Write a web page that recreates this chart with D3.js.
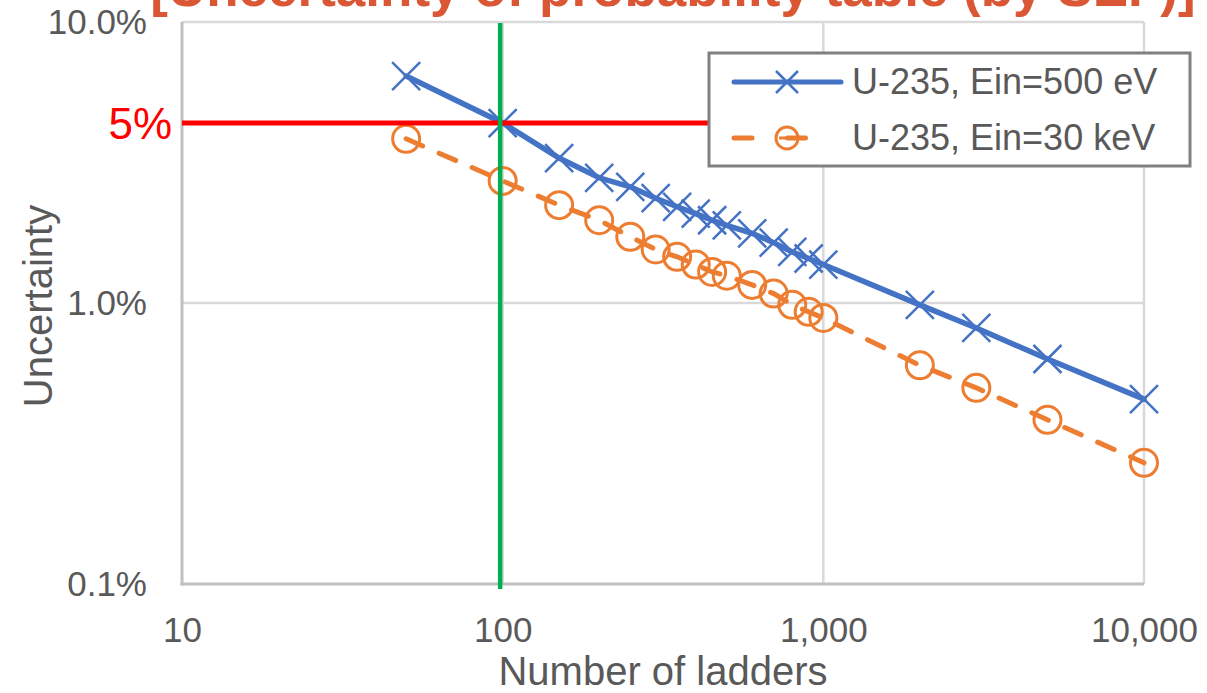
<!DOCTYPE html>
<html>
<head>
<meta charset="utf-8">
<script src="https://cdn.jsdelivr.net/npm/d3@7"></script>
<style>
  body { margin: 0; background: #fff; }
  text { font-family: "Liberation Sans", Arial, sans-serif; }
</style>
</head>
<body>
<script>
var w = 1207;
var h = 693;

// number of ladders
var ladders = [50, 100, 150, 200, 250, 300, 350, 400, 450, 500, 600, 700, 800, 900, 1000, 2000, 3000, 5000, 10000];
// uncertainty in %
var ein500eV = [6.42, 4.37, 3.28, 2.79, 2.59, 2.36, 2.20, 2.08, 1.97, 1.89, 1.77, 1.64, 1.52, 1.44, 1.37, 0.985, 0.815, 0.632, 0.455];
var ein30keV = [3.84, 2.72, 2.23, 1.97, 1.72, 1.55, 1.46, 1.37, 1.29, 1.25, 1.16, 1.08, 0.985, 0.93, 0.885, 0.60, 0.499, 0.384, 0.27];
var seriesNames = ["U-235, Ein=500 eV", "U-235, Ein=30 keV"];
var xTicks = [10, 100, 1000, 10000];
var yTicks = [0.1, 1, 10];
var targetN = 100;
var targetU = 4.37;   // drawn line, labelled "5%"

var svg = d3.select("body")
    .append("svg")
    .attr("width", w)
    .attr("height", h);

var x = d3.scaleLog().domain([10, 10000]).range([182, 1144]);
var y = d3.scaleLog().domain([0.1, 10]).range([584, 22]);

// title (cut off at the top)
svg.append("text")
    .attr("x", 673)
    .attr("y", 6)
    .attr("text-anchor", "middle")
    .attr("font-size", "53px")
    .attr("font-weight", "bold")
    .attr("fill", "#DA5634")
    .text("[Uncertainty of probability table (by SEF)]");

svg.append("text")
    .attr("x", 8)
    .attr("y", 9)
    .attr("text-anchor", "end")
    .attr("font-size", "48px")
    .attr("font-weight", "bold")
    .attr("fill", "#00B050")
    .text("Y");

// gridlines
svg.selectAll(".vgrid")
    .data(xTicks.slice(1))
    .enter()
    .append("line")
    .attr("x1", function(d) { return x(d); })
    .attr("x2", function(d) { return x(d); })
    .attr("y1", y(10))
    .attr("y2", y(0.1))
    .attr("stroke", "#D9D9D9")
    .attr("stroke-width", 2.5);

svg.selectAll(".hgrid")
    .data(yTicks.slice(1))
    .enter()
    .append("line")
    .attr("x1", x(10))
    .attr("x2", x(10000))
    .attr("y1", function(d) { return y(d); })
    .attr("y2", function(d) { return y(d); })
    .attr("stroke", "#D9D9D9")
    .attr("stroke-width", 2.5);

// axis lines
svg.append("line")
    .attr("x1", x(10)).attr("x2", x(10))
    .attr("y1", y(10)).attr("y2", y(0.1) + 1.5)
    .attr("stroke", "#BFBFBF").attr("stroke-width", 3);
svg.append("line")
    .attr("x1", x(10) - 1.5).attr("x2", x(10000))
    .attr("y1", y(0.1)).attr("y2", y(0.1))
    .attr("stroke", "#BFBFBF").attr("stroke-width", 3);

// axes labels
var xAxis = d3.axisBottom(x)
    .tickValues(xTicks)
    .tickFormat(d3.format(","))
    .tickSize(0)
    .tickPadding(33);
var gx = svg.append("g")
    .attr("transform", "translate(0," + y(0.1) + ")")
    .call(xAxis);

var yAxis = d3.axisLeft(y)
    .tickValues(yTicks)
    .tickFormat(function(d) { return d3.format(".1f")(d) + "%"; })
    .tickSize(0)
    .tickPadding(35);
var gy = svg.append("g")
    .attr("transform", "translate(" + x(10) + ",0)")
    .call(yAxis);

[gx, gy].forEach(function(g) {
    g.select(".domain").remove();
    g.selectAll("text")
        .attr("font-family", "'Liberation Sans', Arial, sans-serif")
        .attr("font-size", "35px")
        .attr("fill", "#595959");
});

svg.append("text")
    .attr("x", (x(10) + x(10000)) / 2)
    .attr("y", 685)
    .attr("text-anchor", "middle")
    .attr("font-size", "40px")
    .attr("fill", "#595959")
    .text("Number of ladders");

svg.append("text")
    .attr("transform", "translate(52," + ((y(10) + y(0.1)) / 2 + 3) + ") rotate(-90)")
    .attr("text-anchor", "middle")
    .attr("font-size", "40px")
    .attr("fill", "#595959")
    .text("Uncertainty");

// series
var line = d3.line()
    .x(function(d) { return x(d[0]); })
    .y(function(d) { return y(d[1]); });

var orangeData = d3.zip(ladders, ein30keV);
var blueData = d3.zip(ladders, ein500eV);

svg.append("path")
    .datum(orangeData)
    .attr("d", line)
    .attr("fill", "none")
    .attr("stroke", "#ED7D31")
    .attr("stroke-width", 5)
    .attr("stroke-linecap", "round")
    .attr("stroke-dasharray", "18,18");

svg.selectAll(".circ")
    .data(orangeData)
    .enter()
    .append("circle")
    .attr("cx", function(d) { return x(d[0]); })
    .attr("cy", function(d) { return y(d[1]); })
    .attr("r", 13.5)
    .attr("fill", "none")
    .attr("stroke", "#ED7D31")
    .attr("stroke-width", 3);

svg.append("path")
    .datum(blueData)
    .attr("d", line)
    .attr("fill", "none")
    .attr("stroke", "#4472C4")
    .attr("stroke-width", 5.5)
    .attr("stroke-linecap", "round");

var cross = function(s) {
    return "M" + (-s) + "," + (-s) + "L" + s + "," + s + "M" + (-s) + "," + s + "L" + s + "," + (-s);
};

svg.selectAll(".xmark")
    .data(blueData)
    .enter()
    .append("path")
    .attr("transform", function(d) { return "translate(" + x(d[0]) + "," + y(d[1]) + ")"; })
    .attr("d", cross(14))
    .attr("fill", "none")
    .attr("stroke", "#4472C4")
    .attr("stroke-width", 2.5);

// annotation lines
svg.append("line")
    .attr("x1", x(10)).attr("x2", 712)
    .attr("y1", y(targetU)).attr("y2", y(targetU))
    .attr("stroke", "#FF0000")
    .attr("stroke-width", 5);

svg.append("line")
    .attr("x1", x(targetN) - 2.5).attr("x2", x(targetN) - 2.5)
    .attr("y1", y(10) + 1).attr("y2", y(0.1) + 5)
    .attr("stroke", "#00B050")
    .attr("stroke-width", 4.5);

svg.append("text")
    .attr("x", 172)
    .attr("y", y(targetU) + 16)
    .attr("text-anchor", "end")
    .attr("font-size", "44px")
    .attr("fill", "#FF0000")
    .text("5%");

// legend
var lg = svg.append("g");
lg.append("rect")
    .attr("x", 709).attr("y", 53)
    .attr("width", 481).attr("height", 113)
    .attr("fill", "#fff")
    .attr("stroke", "#808080")
    .attr("stroke-width", 3);

lg.append("line")
    .attr("x1", 734).attr("x2", 841)
    .attr("y1", 82).attr("y2", 82)
    .attr("stroke", "#4472C4").attr("stroke-width", 5)
    .attr("stroke-linecap", "round");
lg.append("path")
    .attr("transform", "translate(787,82)")
    .attr("d", cross(11))
    .attr("fill", "none")
    .attr("stroke", "#4472C4")
    .attr("stroke-width", 2.5);

lg.append("line")
    .attr("x1", 734).attr("x2", 841)
    .attr("y1", 138).attr("y2", 138)
    .attr("stroke", "#ED7D31").attr("stroke-width", 5)
    .attr("stroke-linecap", "round")
    .attr("stroke-dasharray", "18,35.5");
lg.append("line")
    .attr("x1", 779).attr("x2", 795)
    .attr("y1", 138).attr("y2", 138)
    .attr("stroke", "#ED7D31").attr("stroke-width", 3);
lg.append("circle")
    .attr("cx", 787).attr("cy", 138).attr("r", 11)
    .attr("fill", "none")
    .attr("stroke", "#ED7D31")
    .attr("stroke-width", 3);

lg.selectAll(".ltext")
    .data(seriesNames)
    .enter()
    .append("text")
    .attr("x", 852)
    .attr("y", function(d, i) { return 94 + i * 56; })
    .attr("font-size", "36px")
    .attr("fill", "#595959")
    .text(function(d) { return d; });
</script>
</body>
</html>
